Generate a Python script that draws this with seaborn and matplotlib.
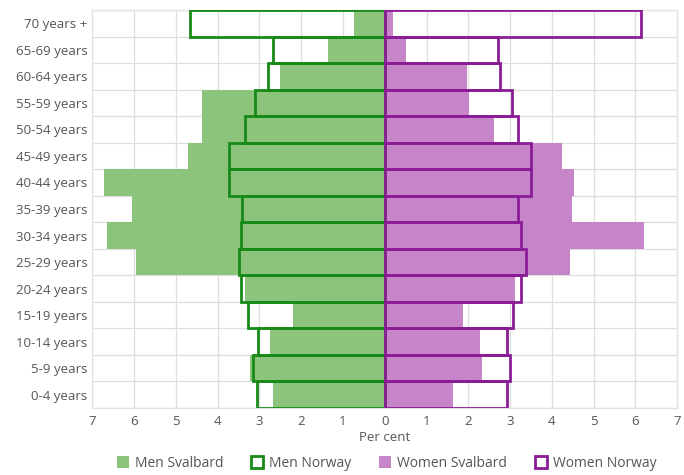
import numpy as np
import pandas as pd
import matplotlib
matplotlib.use("Agg")
import matplotlib.pyplot as plt
from matplotlib.patches import Patch
import seaborn as sns

# age groups, top to bottom
ages = ["70 years +", "65-69 years", "60-64 years", "55-59 years", "50-54 years",
        "45-49 years", "40-44 years", "35-39 years", "30-34 years", "25-29 years",
        "20-24 years", "15-19 years", "10-14 years", "5-9 years", "0-4 years"]

# per cent of population
men_svalbard = [0.73, 1.36, 2.51, 4.38, 4.38, 4.70, 6.72, 6.04, 6.64, 5.96, 3.35, 2.20, 2.75, 3.23, 2.68]
men_norway = [4.66, 2.68, 2.80, 3.11, 3.35, 3.72, 3.72, 3.42, 3.45, 3.49, 3.44, 3.27, 3.04, 3.15, 3.06]
women_svalbard = [0.19, 0.51, 1.98, 2.02, 2.61, 4.25, 4.53, 4.48, 6.20, 4.43, 3.11, 1.87, 2.28, 2.33, 1.64]
women_norway = [6.14, 2.70, 2.77, 3.04, 3.18, 3.51, 3.51, 3.19, 3.25, 3.37, 3.25, 3.06, 2.92, 3.00, 2.92]

xticks = list(range(-7, 8))

df = pd.DataFrame({"age": ages,
                   "men_svalbard": [-v for v in men_svalbard],
                   "men_norway": [-v for v in men_norway],
                   "women_svalbard": women_svalbard,
                   "women_norway": women_norway})

green_fill = "#8cc47b"
green_line = "#178a17"
purple_fill = "#c585c8"
purple_line = "#8a1c95"

sns.set_style("white")
plt.rcParams["font.family"] = ["Open Sans", "DejaVu Sans"]

fig, ax = plt.subplots(figsize=(6.84, 4.75), dpi=100)
fig.subplots_adjust(left=0.135, right=0.99, top=0.979, bottom=0.141)

sns.barplot(data=df, x="men_svalbard", y="age", order=ages, color=green_fill,
            saturation=1, width=1, linewidth=0, ax=ax, zorder=2)
sns.barplot(data=df, x="women_svalbard", y="age", order=ages, color=purple_fill,
            saturation=1, width=1, linewidth=0, ax=ax, zorder=2)
sns.barplot(data=df, x="men_norway", y="age", order=ages, color=green_line,
            saturation=1, width=1, fill=False, linewidth=2, ax=ax, zorder=3)
sns.barplot(data=df, x="women_norway", y="age", order=ages, color=purple_line,
            saturation=1, width=1, fill=False, linewidth=2, ax=ax, zorder=3)

ax.set_xlim(-7, 7)
ax.set_ylim(len(ages) - 0.5, -0.5)
ax.set_xticks(xticks)
ax.set_xticklabels([str(abs(t)) for t in xticks])
ax.set_yticks(np.arange(-0.5, len(ages), 1), minor=True)
ax.grid(axis="x", which="major", color="#dddddd", linewidth=0.9, zorder=0)
ax.grid(axis="y", which="minor", color="#dddddd", linewidth=0.9, zorder=0)
ax.grid(axis="y", which="major", visible=False)
ax.set_axisbelow(True)
ax.tick_params(axis="both", which="both", length=0, labelsize=9.5, labelcolor="#555555")
ax.tick_params(axis="x", pad=5)
ax.set_xlabel("Per cent", fontsize=9.5, color="#555555", labelpad=2)
ax.set_ylabel("")
for s in ax.spines.values():
    s.set_color("#e2e2e2")
    s.set_linewidth(0.9)

handles = [Patch(facecolor=green_fill, edgecolor="none", label="Men Svalbard"),
           Patch(facecolor="none", edgecolor=green_line, linewidth=2, label="Men Norway"),
           Patch(facecolor=purple_fill, edgecolor="none", label="Women Svalbard"),
           Patch(facecolor="none", edgecolor=purple_line, linewidth=2, label="Women Norway")]
leg = fig.legend(handles=handles, loc="lower center", bbox_to_anchor=(0.565, -0.018), ncol=4,
                 frameon=False, fontsize=10, handlelength=0.9, handleheight=0.9,
                 handletextpad=0.4, columnspacing=2.0)
for t in leg.get_texts():
    t.set_color("#555555")

fig.savefig("out.png", dpi=100)
